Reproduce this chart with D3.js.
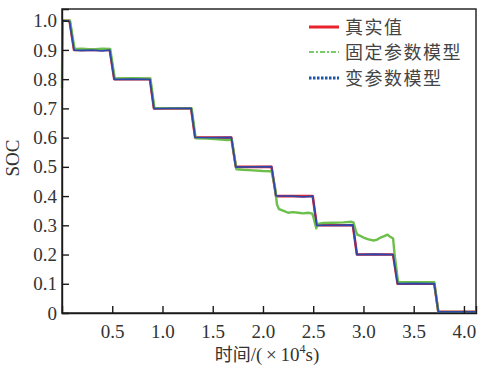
<!DOCTYPE html>
<html><head><meta charset="utf-8">
<script src="https://cdn.jsdelivr.net/npm/d3@7"></script>
<style>
html,body{margin:0;padding:0;background:#fff;}
svg{display:block;}
.ser{font-family:"Liberation Serif";}
.cjks{font-family:"Noto Sans CJK SC";}
</style>
</head><body>
<svg id="c" width="485" height="367"></svg>
<script>
// ---- data (time in 10^4 s, SOC) ----
const seriesNames = ["真实值", "固定参数模型", "变参数模型"];
const xTicks = [0.5, 1.0, 1.5, 2.0, 2.5, 3.0, 3.5, 4.0];
const yTicks = [0, 0.1, 0.2, 0.3, 0.4, 0.5, 0.6, 0.7, 0.8, 0.9, 1.0];
const trueSOC = [[0,1.0],[0.075,1.0],[0.12,0.9],[0.475,0.9],[0.52,0.8],[0.875,0.8],[0.915,0.7],[1.285,0.7],[1.325,0.6],[1.685,0.6],[1.73,0.5],[2.085,0.5],[2.13,0.4],[2.495,0.4],[2.535,0.3],[2.895,0.3],[2.935,0.2],[3.295,0.2],[3.34,0.1],[3.705,0.1],[3.745,0.004],[4.12,0.004]];
const fixedSOC = [[0,0.77],[0.004,1.0],[0.08,1.0],[0.125,0.903],[0.2,0.904],[0.3,0.902],[0.4,0.904],[0.48,0.903],[0.525,0.802],[0.7,0.803],[0.88,0.802],[0.92,0.701],[1.1,0.701],[1.29,0.7],[1.33,0.598],[1.45,0.597],[1.55,0.594],[1.65,0.592],[1.69,0.593],[1.735,0.492],[1.8,0.49],[1.9,0.488],[2.0,0.486],[2.085,0.485],[2.12,0.43],[2.14,0.37],[2.16,0.355],[2.2,0.35],[2.25,0.343],[2.3,0.345],[2.35,0.343],[2.4,0.341],[2.45,0.343],[2.49,0.34],[2.5,0.33],[2.53,0.29],[2.55,0.305],[2.6,0.308],[2.7,0.309],[2.8,0.31],[2.88,0.312],[2.9,0.31],[2.925,0.28],[2.94,0.268],[2.98,0.262],[3.0,0.258],[3.05,0.252],[3.1,0.248],[3.13,0.25],[3.17,0.258],[3.2,0.262],[3.24,0.268],[3.26,0.262],[3.28,0.258],[3.295,0.255],[3.31,0.2],[3.345,0.105],[3.705,0.105],[3.745,0.004],[4.12,0.004]];
const varSOC = [[0,0.77],[0.004,1.0],[0.075,0.998],[0.12,0.899],[0.2,0.898],[0.3,0.899],[0.4,0.897],[0.475,0.899],[0.52,0.799],[0.7,0.8],[0.875,0.799],[0.915,0.699],[1.1,0.7],[1.285,0.7],[1.325,0.601],[1.5,0.6],[1.685,0.601],[1.73,0.499],[1.9,0.5],[2.085,0.501],[2.13,0.401],[2.3,0.4],[2.4,0.397],[2.495,0.4],[2.535,0.3],[2.7,0.3],[2.895,0.301],[2.935,0.2],[3.1,0.201],[3.295,0.2],[3.34,0.1],[3.5,0.101],[3.705,0.1],[3.745,0.004],[4.12,0.004]];

const m = {left: 62, right: 476, top: 9, bottom: 313};
const svg = d3.select("#c");
const x = d3.scaleLinear().domain([0, 4.12]).range([m.left, m.right]);
const y = d3.scaleLinear().domain([0, 1.04]).range([m.bottom, m.top]);

// frame
svg.append("rect").attr("x", m.left).attr("y", m.top)
  .attr("width", m.right - m.left).attr("height", m.bottom - m.top)
  .attr("fill", "none").attr("stroke", "#1a1a1a").attr("stroke-width", 1.4);

// lines
const line = d3.line().x(d => x(d[0])).y(d => y(d[1]));
const g = svg.append("g");
g.append("path").datum(trueSOC).attr("d", line).attr("fill", "none")
  .attr("stroke", "#e8222c").attr("stroke-width", 2.6).attr("stroke-linejoin", "round");
g.append("path").datum(fixedSOC).attr("d", line).attr("fill", "none")
  .attr("stroke", "#6cbf4a").attr("stroke-width", 2.4).attr("stroke-linejoin", "round");
g.append("path").datum(varSOC).attr("d", line).attr("fill", "none")
  .attr("stroke", "#2f47a8").attr("stroke-width", 1.8).attr("stroke-linejoin", "round");

// axes
const xAxis = d3.axisBottom(x).tickValues(xTicks).tickSize(-7).tickPadding(12)
  .tickFormat(d3.format(".1f"));
const yAxis = d3.axisLeft(y).tickValues(yTicks).tickSize(-7).tickPadding(5)
  .tickFormat(d => d === 0 ? "0" : d3.format(".1f")(d));
const gx = svg.append("g").attr("transform", `translate(0,${m.bottom})`).call(xAxis);
const gy = svg.append("g").attr("transform", `translate(${m.left},0)`).call(yAxis);
[gx, gy].forEach(a => {
  a.attr("font-family", "Liberation Serif").attr("font-size", 19);
  a.select(".domain").attr("stroke", "#1a1a1a").attr("stroke-width", 1.4);
  a.selectAll(".tick line").attr("stroke", "#1a1a1a").attr("stroke-width", 1.4);
  a.selectAll(".tick text").attr("class", "ser").attr("fill", "#333");
});
gy.selectAll(".tick").filter(d => d === 0).select("line").remove();

// axis titles
const xl = svg.append("text").attr("class", "ser").attr("font-family", "Liberation Serif")
  .attr("x", 267).attr("y", 361).attr("text-anchor", "middle")
  .attr("font-size", 19).attr("fill", "#333");
xl.append("tspan").attr("class", "cjks").attr("font-family", "Noto Sans CJK SC").attr("font-size", 18).text("时间");
xl.append("tspan").text("/(\u2009×\u200910");
xl.append("tspan").attr("font-size", 12).attr("dy", -8).text("4");
xl.append("tspan").attr("dy", 8).text("s)");
svg.append("text").attr("class", "ser").attr("font-family", "Liberation Serif")
  .attr("transform", "translate(19,158) rotate(-90)").attr("text-anchor", "middle")
  .attr("font-size", 19).attr("fill", "#333").text("SOC");

// legend
const leg = [
  {name: seriesNames[0], color: "#e8222c", dash: null, w: 3, yy: 27},
  {name: seriesNames[1], color: "#4cbb34", dash: "5,2,2,2", w: 1.3, yy: 52},
  {name: seriesNames[2], color: "#1a55a8", dash: "2.5,1.5", w: 3.2, yy: 78}
];
leg.forEach(l => {
  svg.append("line").attr("x1", 309).attr("x2", 339).attr("y1", l.yy).attr("y2", l.yy)
    .attr("stroke", l.color).attr("stroke-width", l.w).attr("stroke-dasharray", l.dash);
  svg.append("text").attr("class", "cjks").attr("font-family", "Noto Sans CJK SC")
    .attr("x", 345).attr("y", l.yy + 7)
    .attr("font-size", 18).attr("letter-spacing", 1.5)
    .attr("fill", "#444").text(l.name);
});
</script>
</body></html>
